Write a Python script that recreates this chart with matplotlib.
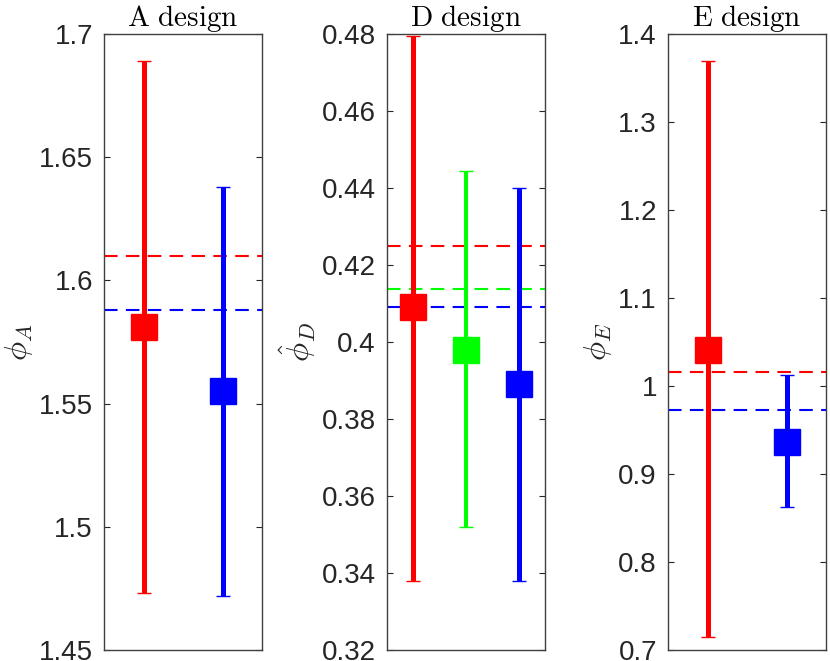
import matplotlib
matplotlib.use("Agg")
import matplotlib.pyplot as plt
from matplotlib.ticker import FuncFormatter
import numpy as np

plt.rcParams['font.family'] = ['Liberation Sans', 'DejaVu Sans']
plt.rcParams['mathtext.fontset'] = 'cm'

# values
a_mean = [1.581, 1.555]
a_low = [1.473, 1.472]
a_high = [1.689, 1.638]
a_ref = [1.610, 1.588]
a_colors = ['#ff0000', '#0000ff']

d_mean = [0.409, 0.398, 0.389]
d_low = [0.338, 0.352, 0.338]
d_high = [0.4795, 0.4445, 0.440]
d_ref = [0.425, 0.4137, 0.409]
d_colors = ['#ff0000', '#00ff00', '#0000ff']

e_mean = [1.041, 0.936]
e_low = [0.7145, 0.862]
e_high = [1.369, 1.012]
e_ref = [1.0155, 0.973]
e_colors = ['#ff0000', '#0000ff']

titles = ['A design', 'D design', 'E design']
ylabels = [r'$\phi_A$', r'$\hat{\phi}_D$', r'$\phi_E$']
ylims = [(1.45, 1.7), (0.32, 0.48), (0.7, 1.4)]
ysteps = [0.05, 0.02, 0.1]

panels = [
    (a_mean, a_low, a_high, a_ref, a_colors),
    (d_mean, d_low, d_high, d_ref, d_colors),
    (e_mean, e_low, e_high, e_ref, e_colors),
]

fig = plt.figure(figsize=(8.3, 6.61), dpi=100)
lefts = [104/830, 387/830, 668/830]
axcol = '#262626'

for i, (mean, low, high, ref, cols) in enumerate(panels):
    ax = fig.add_axes([lefts[i], 11/661, 158/830, 616/661])
    n = len(mean)
    x = np.arange(1, n + 1)
    for r, c in zip(ref, cols):
        ax.axhline(r, color=c, lw=1.5, dashes=(6.5, 4), zorder=1)
    for xi, m, lo, hi, c in zip(x, mean, low, high, cols):
        lw = 2.9 if c == '#00ff00' else 3.6
        ax.errorbar(xi, m, yerr=[[m - lo], [hi - m]], fmt='s', color=c,
                    ecolor=c, elinewidth=lw, capsize=5.2, capthick=lw,
                    markersize=18.5, markeredgewidth=1, zorder=3)
    ax.set_xlim(0.5, n + 0.5)
    lo_y, hi_y = ylims[i]
    ax.set_ylim(lo_y, hi_y)
    ax.set_yticks(np.round(np.arange(lo_y, hi_y + 1e-9, ysteps[i]), 4))
    ax.yaxis.set_major_formatter(FuncFormatter(lambda v, p: '%g' % v))
    ax.set_xticks([])
    ax.tick_params(axis='y', direction='in', length=4, width=0.8,
                   left=True, right=True, labelsize=20, colors=axcol, pad=8)
    for s in ax.spines.values():
        s.set_color('#404040')
        s.set_linewidth(1.0)
    ax.set_title(r'$\mathrm{' + titles[i].replace(' ', r'\ ') + '}$',
                 fontsize=21, pad=4, color='black')
    ax.set_ylabel(ylabels[i], fontsize=23, labelpad=3, color=axcol)

fig.savefig('out.png', dpi=100)
